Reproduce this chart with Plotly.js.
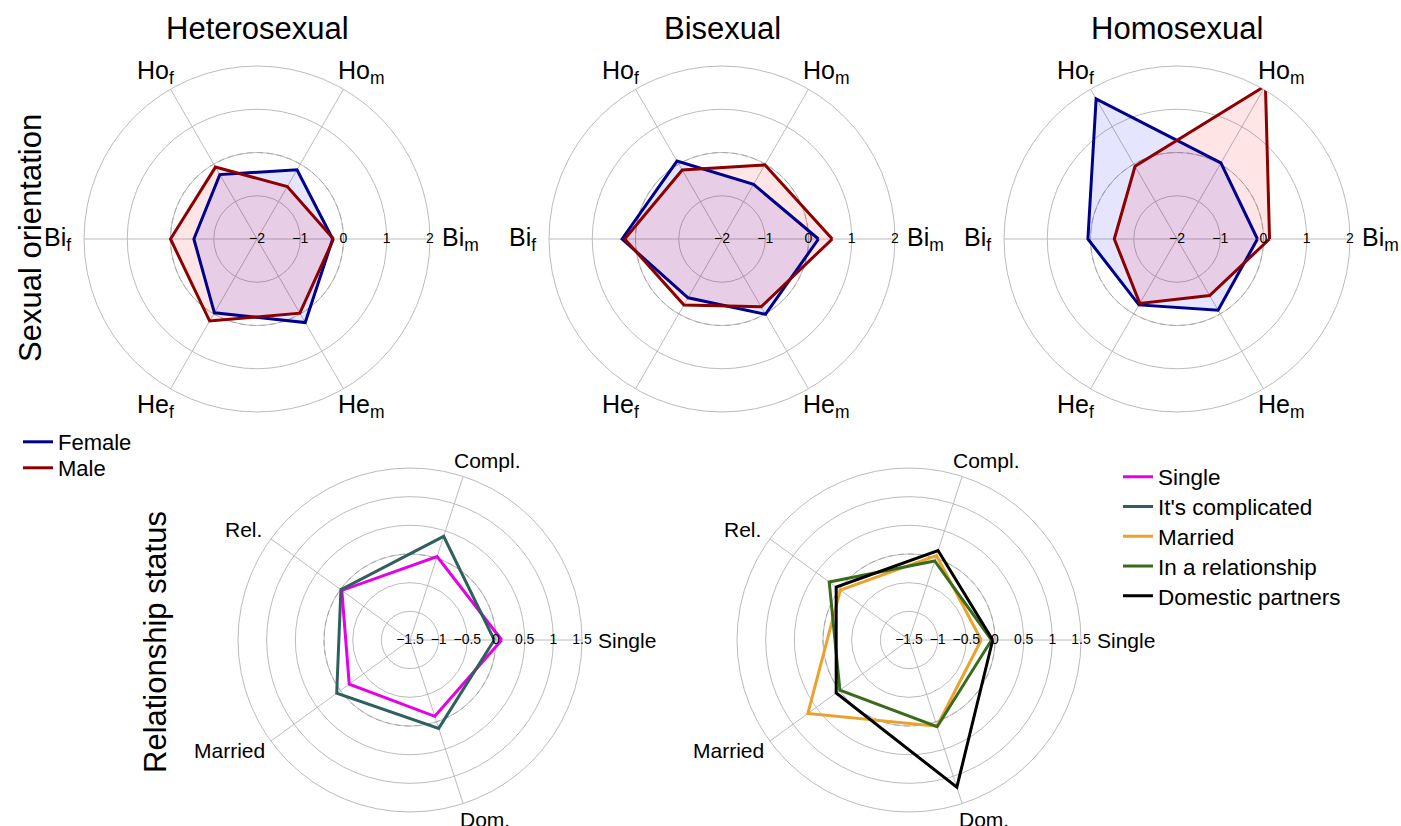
<!DOCTYPE html>
<html><head><meta charset="utf-8">
<script src="https://cdn.plot.ly/plotly-3.0.1.min.js"></script>
<style>html,body{margin:0;padding:0;background:#fff}#chart{width:1401px;height:826px}</style>
</head><body><div id="chart"></div>
<script>
// ---------- data ----------
const orientationAxes = ['Bi<sub>m</sub>','Ho<sub>m</sub>','Ho<sub>f</sub>','Bi<sub>f</sub>','He<sub>f</sub>','He<sub>m</sub>'];
const panelTitles = ['Heterosexual','Bisexual','Homosexual'];
const rowTitles = ['Sexual orientation','Relationship status'];
const genderNames = ['Female','Male'];

const heteroFemale = [-0.25, -0.15, -0.28, -0.54, -0.03, 0.23];
const heteroMale   = [-0.23, -0.60, -0.08,  0.00,  0.19, -0.02];
const biFemale     = [ 0.23, -0.54,  0.08,  0.31, -0.43,  0.01];
const biMale       = [ 0.55, -0.02, -0.16,  0.25, -0.24, -0.19];
const homoFemale   = [-0.14,  0.03,  1.74,  0.06, -0.24, -0.10];
const homoMale     = [ 0.14,  2.09, -0.06, -0.55, -0.28, -0.49];

const orientationTicks = [-2, -1, 0, 1, 2];
const orientationTickText = ['\u22122', '\u22121', '0', '1', '2'];

const statusAxes = ['Single','Compl.','Rel.','Married','Dom.'];
const statusNames = ['Single',"It's complicated",'Married','In a relationship','Domestic partners'];
const singleVals       = [ 0.10,  0.03, -0.03, -0.19, -0.10];
const complicatedVals  = [-0.03,  0.40, -0.01,  0.08,  0.12];
const marriedVals      = [-0.24,  0.05, -0.02,  0.68,  0.08];
const relationshipVals = [-0.06, -0.05,  0.22, -0.01,  0.09];
const domesticVals     = [-0.04,  0.14,  0.07,  0.07,  1.20];

const statusTicks = [-1.5, -1, -0.5, 0, 0.5, 1, 1.5];
const statusTickText = ['\u22121.5', '\u22121', '\u22120.5', '0', '0.5', '1', '1.5'];

const referenceLevel = 0;

// ---------- styles ----------
const FONT = '"Liberation Sans", Arial, Helvetica, sans-serif';
const W = 1401, H = 826;
const GRID = '#bcbcbc';
const femaleColor = '#00008b', maleColor = '#8b0000';
const femaleFill = 'rgba(0,0,255,0.10)', maleFill = 'rgba(255,0,0,0.10)';
const statusColors = ['#e600e6', '#2f5f5f', '#eaa22c', '#3a6a1c', '#000000'];

// panels: centre (px), radius (px)
const panels = {
  polar:  {cx:257,  cy:239, R:173, range:[-2,2],     font:25, padx:0, lean:0},
  polar2: {cx:722,  cy:239, R:173, range:[-2,2],     font:25, padx:0, lean:0},
  polar3: {cx:1177, cy:239, R:173, range:[-2,2],     font:25, padx:0, lean:0},
  polar4: {cx:410,  cy:640, R:172, range:[-1.5,1.5], font:21, padx:5, lean:10},
  polar5: {cx:909,  cy:640, R:172, range:[-1.5,1.5], font:21, padx:5, lean:10}
};

function closeR(a){ return a.concat([a[0]]); }
function anglesFor(n){ const t=[]; for(let i=0;i<=n;i++) t.push((i%n)*360/n); return t; }
function ringTheta(){ const t=[]; for(let a=0;a<=360;a+=2) t.push(a); return t; }
function dom(p){ return {x:[(p.cx-p.R)/W,(p.cx+p.R)/W], y:[1-(p.cy+p.R)/H, 1-(p.cy-p.R)/H]}; }

const ctx = document.createElement('canvas').getContext('2d');
function labelWidth(label, size){
  const m = label.match(/^(.*?)(?:<sub>(.*)<\/sub>)?$/);
  ctx.font = size + 'px "Liberation Sans"';
  let w = ctx.measureText(m[1]).width;
  if (m[2]) { ctx.font = (size*0.7) + 'px "Liberation Sans"'; w += ctx.measureText(m[2]).width; }
  return w;
}

const data = [];
const annotations = [];
const ring = ringTheta();

function refRing(sub){
  data.push({type:'scatterpolar', subplot:sub, r: ring.map(()=>referenceLevel), theta: ring,
    mode:'lines', line:{color:'#a8a8a8', width:1, dash:'6px,4px'}, showlegend:false, hoverinfo:'skip'});
}
function tickText(sub, vals, txt){
  data.push({type:'scatterpolar', subplot:sub, r: vals, theta: vals.map(()=>0), mode:'text',
    text: txt, textposition:'middle center', textfont:{size:14, color:'#000', family:FONT},
    showlegend:false, hoverinfo:'skip', cliponaxis:false});
}
// category labels just outside the outer circle of each panel
function axisLabels(sub, labels){
  const p = panels[sub], n = labels.length, fs = p.font;
  const pad = 0.5*fs, hh = 0.3*fs;
  labels.forEach((lab, i) => {
    const a = i*2*Math.PI/n, c = Math.cos(a), s = Math.sin(a);
    const w = labelWidth(lab, fs);
    let dx = (p.R+pad)*c + c*(w/2 + p.padx);
    if (c > 0.1 && Math.abs(s) > 0.5) dx += p.lean*Math.abs(s);
    const dy = (p.R+pad)*s + s*hh;
    annotations.push({text: lab, x: (p.cx+dx)/W, y: 1-(p.cy-dy)/H, xref:'paper', yref:'paper',
      showarrow:false, xanchor:'center', yanchor:'middle', font:{size:fs, color:'#000', family:FONT}});
  });
}

const orientSets = [[heteroFemale, heteroMale],[biFemale, biMale],[homoFemale, homoMale]];
const thetaO = anglesFor(orientationAxes.length);
const genderLegends = ['legend','legend3'];
orientSets.forEach((pair, k) => {
  const sub = k===0 ? 'polar' : 'polar'+(k+1);
  refRing(sub);
  const fills = [femaleFill, maleFill], cols = [femaleColor, maleColor];
  pair.forEach((vals, j) => {
    data.push({type:'scatterpolar', subplot:sub, r: closeR(vals), theta: thetaO, mode:'lines',
      fill:'toself', fillcolor: fills[j], line:{width:0, color:cols[j]}, showlegend:false, hoverinfo:'skip', cliponaxis:false});
  });
  pair.forEach((vals, j) => {
    data.push({type:'scatterpolar', subplot:sub, r: closeR(vals), theta: thetaO, mode:'lines',
      name: genderNames[j], legend: genderLegends[j], line:{width:3, color:cols[j]}, showlegend: k===0, cliponaxis:false});
  });
  tickText(sub, orientationTicks, orientationTickText);
  axisLabels(sub, orientationAxes);
});

const statusLegends = ['legend2','legend4','legend5','legend6','legend7'];
const thetaS = anglesFor(statusAxes.length);
const statusSets = [[singleVals, complicatedVals],[marriedVals, relationshipVals, domesticVals]];
let si = 0;
statusSets.forEach((set, k) => {
  const sub = 'polar'+(k+4);
  refRing(sub);
  set.forEach(vals => {
    data.push({type:'scatterpolar', subplot:sub, r: closeR(vals), theta: thetaS, mode:'lines',
      name: statusNames[si], legend: statusLegends[si], line:{width:3, color: statusColors[si]}, showlegend:true, cliponaxis:false});
    si++;
  });
  tickText(sub, statusTicks, statusTickText);
  axisLabels(sub, statusAxes);
});

function polarCfg(sub, tickv, n){
  const p = panels[sub];
  return {
    domain: dom(p), bgcolor:'rgba(0,0,0,0)',
    radialaxis:{range: p.range, tickmode:'array', tickvals: tickv, showticklabels:false, ticks:'',
      showline:false, gridcolor: GRID, gridwidth:1, layer:'below traces', angle:0},
    angularaxis:{type:'linear', thetaunit:'degrees', rotation:0, direction:'counterclockwise',
      tickmode:'array', tickvals: Array.from({length:n}, (_,i)=>i*360/n), showticklabels:false,
      showline:true, linecolor: GRID, linewidth:1, gridcolor: GRID, gridwidth:1, ticks:'',
      layer:'below traces'}
  };
}

[
  {text: panelTitles[0], x: 257/W, y: 1-28/H},
  {text: panelTitles[1], x: 722/W, y: 1-28/H},
  {text: panelTitles[2], x: 1177/W, y: 1-28/H},
  {text: rowTitles[0], x: 30/W, y: 1-238/H, textangle:-90},
  {text: rowTitles[1], x: 155/W, y: 1-642/H, textangle:-90}
].forEach(a => annotations.push(Object.assign(a, {xref:'paper', yref:'paper', showarrow:false,
  xanchor:'center', yanchor:'middle', font:{size:31, color:'#000', family:FONT}})));

const legendBase = {xanchor:'left', yanchor:'top', bgcolor:'rgba(0,0,0,0)', itemwidth:30, traceorder:'normal'};
const layout = {
  width: W, height: H, margin:{l:0,r:0,t:0,b:0}, paper_bgcolor:'#fff',
  font:{family:FONT, color:'#000'},
  showlegend:true,
  polar:  polarCfg('polar',  orientationTicks, orientationAxes.length),
  polar2: polarCfg('polar2', orientationTicks, orientationAxes.length),
  polar3: polarCfg('polar3', orientationTicks, orientationAxes.length),
  polar4: polarCfg('polar4', statusTicks, statusAxes.length),
  polar5: polarCfg('polar5', statusTicks, statusAxes.length),
  legend:  Object.assign({x: 18/W, y: 1-421/H, font:{size:22, color:'#000', family:FONT}}, legendBase),
  legend3: Object.assign({x: 18/W, y: 1-447/H, font:{size:22, color:'#000', family:FONT}}, legendBase),
  annotations: annotations
};
// relationship legend: one entry per row, rows ~30 px apart
statusLegends.forEach((lg, i) => {
  layout[lg] = Object.assign({x: 1118/W, y: 1-(455.5 + 29.8*i)/H, font:{size:22.5, color:'#000', family:FONT}}, legendBase);
});

Plotly.newPlot('chart', data, layout, {staticPlot:true, displayModeBar:false});
</script>
</body></html>
